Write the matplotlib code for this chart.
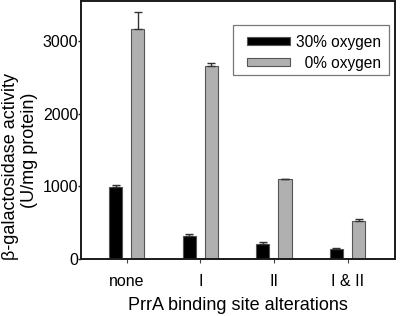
import matplotlib
matplotlib.use("Agg")
import matplotlib.pyplot as plt
from matplotlib.patches import Rectangle
import numpy as np

categories = ["none", "I", "II", "I & II"]
oxy30 = [990, 310, 205, 130]
oxy30_err = [22, 28, 24, 14]
oxy0 = [3160, 2660, 1095, 515]
oxy0_err = [240, 35, 8, 28]
yticks = [0, 1000, 2000, 3000]

plt.rcParams['font.family'] = ['Liberation Sans', 'DejaVu Sans']

fig = plt.figure(figsize=(4.0, 3.16), dpi=100)
ax = fig.add_axes([0.2025, 0.181, 0.785, 0.816])

x = np.arange(len(categories))
w = 0.18
off = 0.15
ax.bar(x - off, oxy30, w, color='black', edgecolor='#555555', linewidth=0.8,
       label='30% oxygen', zorder=2)
ax.bar(x + off, oxy0, w, color='#b0b0b0', edgecolor='#555555', linewidth=0.8,
       label='\u20070% oxygen', zorder=2)
ax.errorbar(x - off, oxy30, yerr=[np.zeros(4), oxy30_err], fmt='none',
            ecolor='#333333', elinewidth=1, capsize=3.2, capthick=1, zorder=3)
ax.errorbar(x + off, oxy0, yerr=[np.zeros(4), oxy0_err], fmt='none',
            ecolor='#333333', elinewidth=1, capsize=3.2, capthick=1, zorder=3)

ax.set_xlim(-0.62, 3.645)
ax.set_ylim(0, 3550)
ax.set_xticks(x)
ax.set_xticklabels(categories, fontsize=11.5)
ax.set_yticks(yticks)
ax.set_yticklabels([str(v) for v in yticks], fontsize=11.5)
ax.tick_params(axis='y', length=2, pad=0, width=1, color='#222222')
ax.tick_params(axis='x', length=3, pad=8, width=0.8, color='#444444')

for s in ax.spines.values():
    s.set_linewidth(1.4)
    s.set_color('#1a1a1a')

ax.set_xlabel('PrrA binding site alterations', fontsize=13, labelpad=6)
fig.text(11/400, 1 - 166/316, 'β-galactosidase activity', rotation=90,
         fontsize=13, ha='center', va='center')
fig.text(29.5/400, 1 - 150/316, '(U/mg protein)', rotation=90,
         fontsize=13, ha='center', va='center')

# legend frame drawn separately
ax.add_patch(Rectangle((0.483, 0.714), 0.499, 0.192, transform=ax.transAxes,
                       facecolor='white', edgecolor='#777777', linewidth=0.9,
                       zorder=4))
leg = ax.legend(loc='center left', bbox_to_anchor=(0.528, 0.7996), fontsize=11.2,
                handlelength=2.76, handleheight=0.45, handletextpad=0.43,
                borderpad=0, labelspacing=0.4, frameon=False, borderaxespad=0)
leg.set_zorder(5)

fig.savefig('out.png', dpi=100)
